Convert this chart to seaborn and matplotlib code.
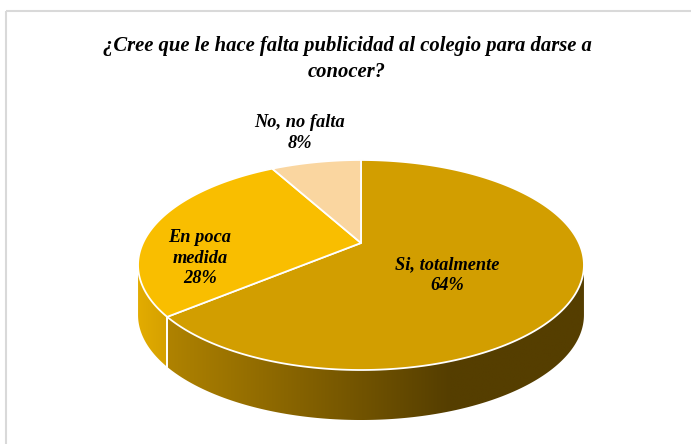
import numpy as np
import matplotlib
matplotlib.use("Agg")
import matplotlib.pyplot as plt
import seaborn as sns
from matplotlib.patches import Polygon

# Survey answers and their shares (%)
categories = ["Si, totalmente", "En poca medida", "No, no falta"]
values = [64, 28, 8]
label_names = ["Si, totalmente", "En poca\nmedida", "No, no falta"]
title = "¿Cree que le hace falta publicidad al colegio para darse a\nconocer?"

# Colours: top face, and gradient stops (x, rgb) for the visible rim
top_colors = ["#D29E00", "#F9BE00", "#FAD6A0"]
side_stops = [
    [(165, (176, 131, 0)), (300, (133, 98, 0)), (450, (85, 62, 0)), (600, (85, 62, 0))],
    [(136, (228, 173, 0)), (172, (210, 158, 0))],
    [(0, (240, 200, 140)), (691, (240, 200, 140))],
]
# Label anchor points (pixel layout)
label_pos = [(447, 275), (200, 258), (300, 133)]

sns.set_theme(style="white")
plt.rcParams["font.family"] = ["Liberation Serif", "DejaVu Serif"]

W, H = 691, 444
fig = plt.figure(figsize=(W / 100, H / 100), dpi=100)
ax = fig.add_axes([0, 0, 1, 1])
ax.set_xlim(0, W)
ax.set_ylim(H, 0)
ax.axis("off")

# Perspective projection of a unit disc onto the page
CX, CY = 361, 243
K = 0.2095
A, B = 218.0, 100.4
DEPTH = 50


def proj(t_deg, r=1.0, drop=0.0):
    t = np.radians(t_deg)
    u = r * np.cos(t)
    v = r * np.sin(t)
    den = 1 + K * v
    return CX + A * u / den, CY - B * v / den + drop


# Slice angle ranges: start at 12 o'clock, run clockwise
total = float(sum(values))
starts, ends = [], []
acc = 0.0
for v in values:
    s = 90 - 360 * acc / total
    e = s - 360 * v / total
    starts.append(s)
    ends.append(e)
    acc += v

# Visible part of the rim lies between the silhouette extremes
T_L = -180 + np.degrees(np.arcsin(K))
T_R = -np.degrees(np.arcsin(K))


def rim_color_image(stops, x0, x1, n=400):
    xs = np.linspace(x0, x1, n)
    sx = [p[0] for p in stops]
    img = np.zeros((1, n, 3))
    for c in range(3):
        img[0, :, c] = np.interp(xs, sx, [p[1][c] / 255 for p in stops])
    return img


# Rim (side walls)
for i in range(len(values)):
    lo = max(ends[i], T_L)
    hi = min(starts[i], T_R)
    if lo >= hi:
        continue
    ts = np.linspace(lo, hi, 200)
    tx, ty = proj(ts)
    bx, by = proj(ts[::-1], drop=DEPTH)
    pts = np.column_stack([np.concatenate([tx, bx]), np.concatenate([ty, by])])
    poly = Polygon(pts, closed=True, facecolor="none", edgecolor="none")
    ax.add_patch(poly)
    x0, x1 = pts[:, 0].min(), pts[:, 0].max()
    y0, y1 = pts[:, 1].min(), pts[:, 1].max()
    im = ax.imshow(rim_color_image(side_stops[i], x0, x1), extent=[x0, x1, y1, y0],
                   aspect="auto", interpolation="bilinear", zorder=1)
    im.set_clip_path(poly)

# White seams on the rim at slice boundaries
for b in starts + ends:
    bb = ((b + 180) % 360) - 180
    if T_L < bb < T_R:
        x, y = proj(bb)
        ax.plot([x, x], [y, y + DEPTH], color="white", lw=1.3, zorder=2)

# Top faces
for i in range(len(values)):
    ts = np.linspace(starts[i], ends[i], 200)
    x, y = proj(ts)
    pts = np.column_stack([np.concatenate([[CX], x]), np.concatenate([[CY], y])])
    ax.add_patch(Polygon(pts, closed=True, facecolor=top_colors[i],
                         edgecolor="white", lw=1.3, joinstyle="round", zorder=3))

# Data labels
for i in range(len(values)):
    ax.text(label_pos[i][0], label_pos[i][1], f"{label_names[i]}\n{values[i]}%",
            ha="center", va="center", fontsize=13.2, fontweight="bold",
            fontstyle="italic", color="black", linespacing=1.3, zorder=5)

# Title
ax.text(347, 59, title, ha="center", va="center", fontsize=14.9, fontweight="bold",
        fontstyle="italic", color="black", linespacing=1.42, zorder=5)

# Chart-area frame
ax.plot([6, W], [11.5, 11.5], color="#D9D9D9", lw=1.5, zorder=0, solid_capstyle="butt")
ax.plot([6.5, 6.5], [11, H], color="#D9D9D9", lw=1.5, zorder=0, solid_capstyle="butt")

fig.savefig("out.png", dpi=100)
